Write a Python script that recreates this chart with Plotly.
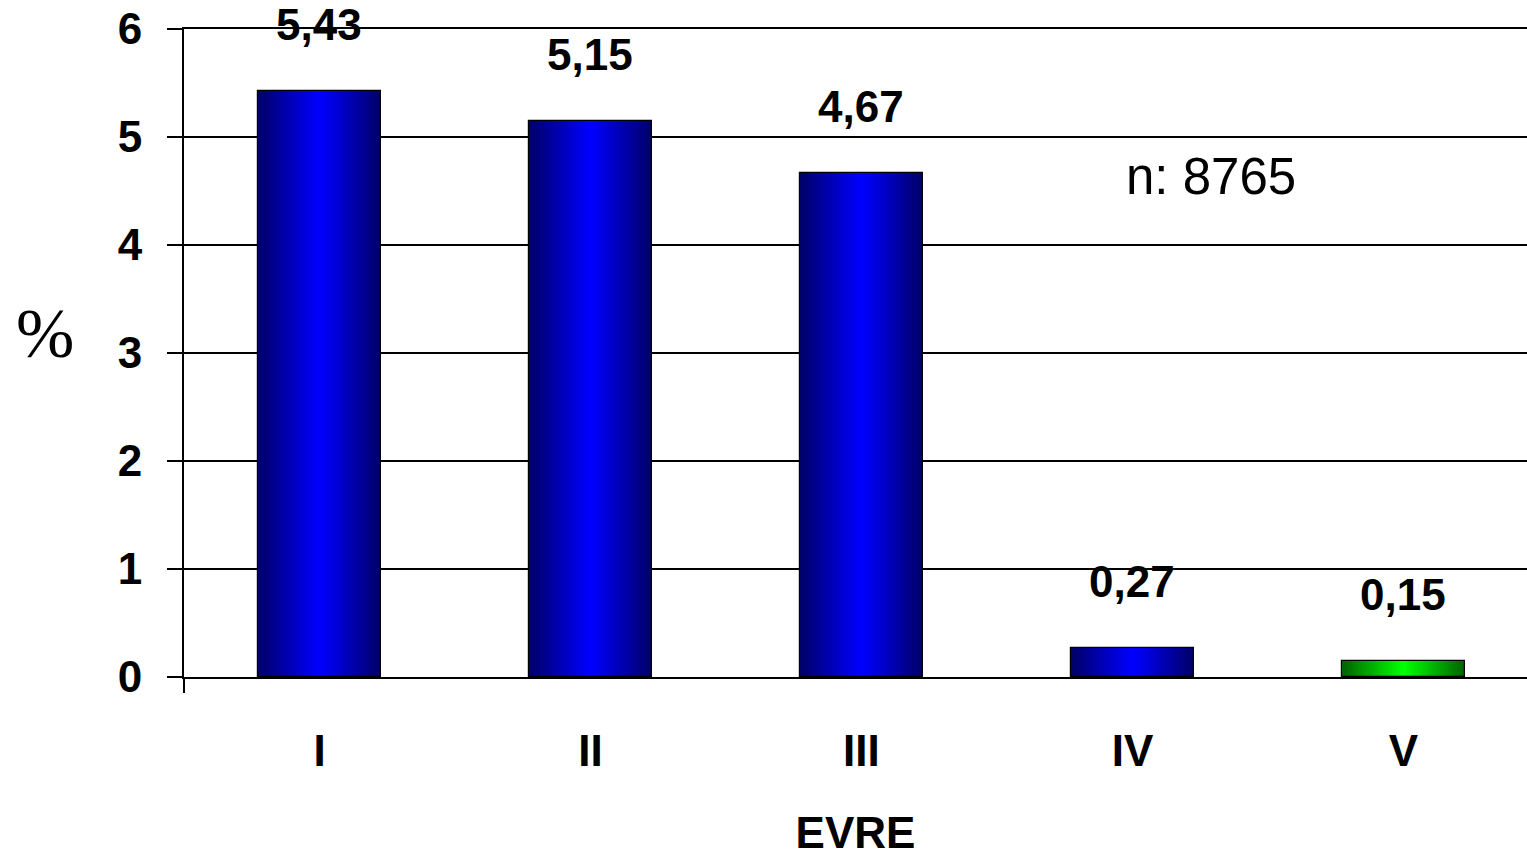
import plotly.graph_objects as go

# Data
categories = ["I", "II", "III", "IV", "V"]
values = [5.43, 5.15, 4.67, 0.27, 0.15]
value_labels = ["5,43", "5,15", "4,67", "0,27", "0,15"]
y_ticks = [0, 1, 2, 3, 4, 5, 6]
sample_note = "n: 8765"

# Colour ramps (edge colour -> centre colour) for each bar
edge_colors = [(0, 0, 105)] * 4 + [(0, 100, 0)]
centre_colors = [(0, 0, 255)] * 4 + [(0, 255, 0)]

BAR_W = 0.454
LAYERS = 32
FONT = "Liberation Sans, Arial, sans-serif"
BOLD = dict(family=FONT, size=44, color="black", weight="bold")

fig = go.Figure()

# Horizontal "from centre" gradient built from nested bars:
# the widest layer is darkest, narrower layers get brighter.
for k in range(LAYERS):
    t = k / (LAYERS - 1)
    w = BAR_W * (1 - t * (LAYERS - 1) / LAYERS)
    cols = []
    for e, c in zip(edge_colors, centre_colors):
        r, g, b = (round(e[i] + (c[i] - e[i]) * t) for i in range(3))
        cols.append(f"rgb({r},{g},{b})")
    fig.add_trace(go.Bar(
        x=categories, y=values, width=w,
        marker=dict(color=cols, line=dict(width=0)),
        hoverinfo="skip", showlegend=False,
    ))

# Outline on top
fig.add_trace(go.Bar(
    x=categories, y=values, width=BAR_W,
    marker=dict(color="rgba(0,0,0,0)", line=dict(color="black", width=1.2)),
    showlegend=False,
))

# Value labels above each bar
for cat, v, lab in zip(categories, values, value_labels):
    fig.add_annotation(
        x=cat, y=v, text=lab, showarrow=False,
        yanchor="middle", yshift=66,
        font=BOLD,
    )

fig.add_annotation(
    x=3.29, y=4.63, xref="x", yref="y", text=sample_note, showarrow=False,
    font=dict(family=FONT, size=51, color="black"),
)

# Unrotated value-axis label
fig.add_annotation(
    x=(45 - 184) / 1343, y=(677 - 333) / 648, xref="paper", yref="paper",
    text="%", showarrow=False, xanchor="center", yanchor="middle",
    font=dict(family="Liberation Serif, Times New Roman, serif", size=70, color="black"),
)

# Short extension of the value axis below the baseline
fig.add_shape(
    type="line", xref="paper", yref="paper",
    x0=0, x1=0, y0=-16 / 648, y1=0,
    line=dict(color="black", width=2),
)

fig.update_layout(
    width=1527, height=857,
    margin=dict(l=184, r=0, t=29, b=180),
    paper_bgcolor="white", plot_bgcolor="white",
    barmode="overlay", bargap=0,
    font=dict(family=FONT, color="black"),
)

fig.update_xaxes(
    type="category", range=[-0.5, 4.456],
    showgrid=False, showline=True, linecolor="black", linewidth=2,
    mirror=True,
    ticks="", tickfont=BOLD,
    ticklabelstandoff=34,
    title=dict(text="EVRE", standoff=48, font=BOLD),
)

fig.update_yaxes(
    range=[0, 6], tickvals=y_ticks,
    showgrid=True, gridcolor="black", gridwidth=2,
    showline=True, linecolor="black", linewidth=2,
    ticks="outside", ticklen=15, tickwidth=2, tickcolor="black",
    tickfont=BOLD,
    ticklabelstandoff=16,
    zeroline=False,
)

fig.write_html("out.html")
